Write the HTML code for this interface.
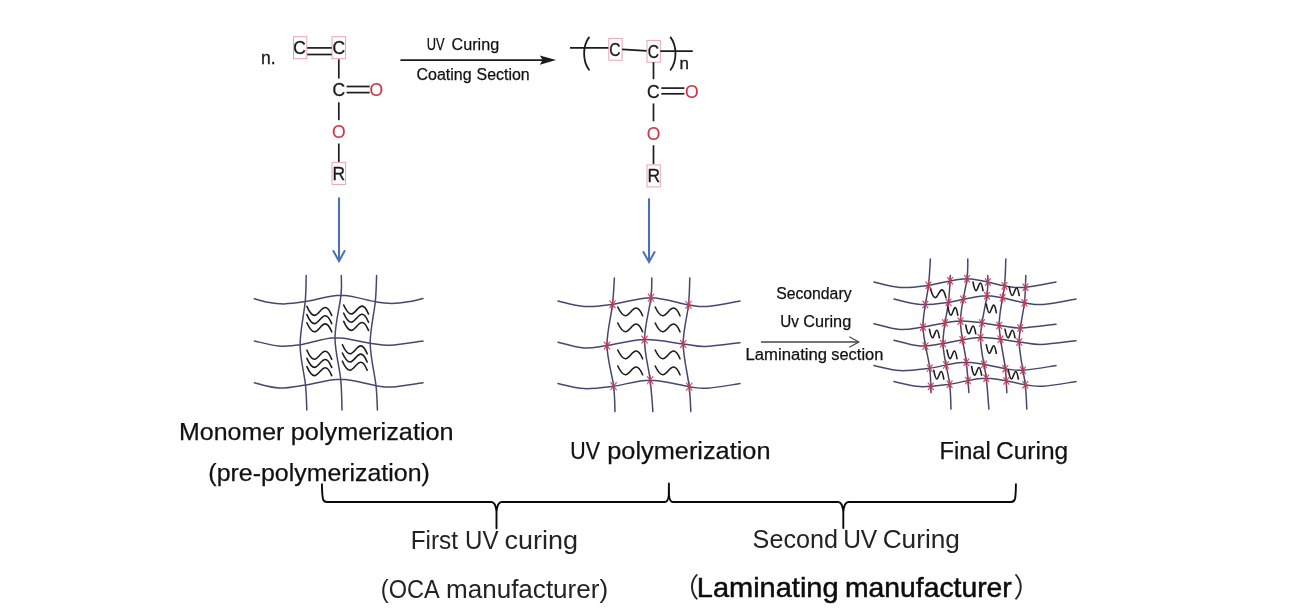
<!DOCTYPE html>
<html lang="en">
<head>
<meta charset="utf-8">
<title>UV curing process of OCA</title>
<style>
html,body{margin:0;padding:0;background:#fff;}
body{width:1307px;height:611px;overflow:hidden;position:relative;}
svg{position:absolute;left:0;top:0;display:block;filter:blur(0.45px);}
text{font-family:"Liberation Sans","Noto Sans CJK SC",sans-serif;}
.lab{fill:#111;stroke:#111;stroke-width:0.25px;}
.light{fill:#232323;}
.med{fill:#0c0c0c;stroke:#0c0c0c;stroke-width:0.5px;}
.chem{fill:#1a1a1a;stroke:#1a1a1a;stroke-width:0.3px;}
.red{fill:#cd3348;stroke:#cd3348;stroke-width:0.1px;}
</style>
</head>
<body>
<svg width="1307" height="611" viewBox="0 0 1307 611">
<g id="monomer">
<text x="261.0" y="63.8" font-size="17.50" font-weight="400" text-anchor="start" class="chem">n.</text>
<rect x="293.50" y="36.70" width="13.30" height="22.00" fill="none" stroke="#e9a3b2" stroke-width="1"/>
<text x="299.6" y="54.4" font-size="17.50" font-weight="400" text-anchor="middle" class="chem">C</text>
<rect x="332.00" y="36.70" width="13.60" height="22.00" fill="none" stroke="#e9a3b2" stroke-width="1"/>
<text x="338.8" y="54.4" font-size="17.50" font-weight="400" text-anchor="middle" class="chem">C</text>
<line x1="307.20" y1="47.90" x2="331.80" y2="47.90" stroke="#1c1c1c" stroke-width="1.70" stroke-linecap="butt"/>
<line x1="307.20" y1="54.50" x2="331.80" y2="54.50" stroke="#1c1c1c" stroke-width="1.70" stroke-linecap="butt"/>
<line x1="338.80" y1="59.30" x2="338.80" y2="78.50" stroke="#1c1c1c" stroke-width="1.70" stroke-linecap="butt"/>
<text x="338.9" y="96.4" font-size="17.50" font-weight="400" text-anchor="middle" class="chem">C</text>
<line x1="346.60" y1="86.50" x2="369.70" y2="86.50" stroke="#1c1c1c" stroke-width="1.70" stroke-linecap="butt"/>
<line x1="346.60" y1="92.60" x2="369.70" y2="92.60" stroke="#1c1c1c" stroke-width="1.70" stroke-linecap="butt"/>
<text x="376.4" y="96.4" font-size="17.50" font-weight="400" text-anchor="middle" class="red">O</text>
<line x1="338.80" y1="102.30" x2="338.80" y2="120.20" stroke="#1c1c1c" stroke-width="1.70" stroke-linecap="butt"/>
<text x="338.8" y="138.0" font-size="17.50" font-weight="400" text-anchor="middle" class="red">O</text>
<line x1="338.80" y1="143.50" x2="338.80" y2="162.00" stroke="#1c1c1c" stroke-width="1.70" stroke-linecap="butt"/>
<rect x="332.00" y="162.40" width="13.60" height="22.00" fill="none" stroke="#e9a3b2" stroke-width="1"/>
<text x="338.9" y="180.0" font-size="17.50" font-weight="400" text-anchor="middle" class="chem">R</text>
<line x1="339.00" y1="197.50" x2="339.00" y2="260.50" stroke="#4b70b6" stroke-width="2.10" stroke-linecap="butt"/>
<path d="M333.4,251.0 L339,261.2 L344.6,251.0" fill="none" stroke="#4b70b6" stroke-width="2.00" stroke-linecap="round" stroke-linejoin="miter"/>
</g>
<g id="curing-arrow">
<line x1="400.40" y1="60.10" x2="545.00" y2="60.10" stroke="#1c1c1c" stroke-width="1.80" stroke-linecap="butt"/>
<path d="M556.2,60.1 L539.8,55.4 L542.6,60.1 L539.8,64.8 Z" fill="#1c1c1c"/>
<text y="50.1" font-size="17.20" class="lab"><tspan x="426.68" textLength="17.88" lengthAdjust="spacingAndGlyphs">UV</tspan> <tspan x="451.58" textLength="47.59" lengthAdjust="spacingAndGlyphs">Curing</tspan></text>
<text y="80.2" font-size="17.20" class="lab"><tspan x="416.49" textLength="55.18" lengthAdjust="spacingAndGlyphs">Coating</tspan> <tspan x="476.58" textLength="53.14" lengthAdjust="spacingAndGlyphs">Section</tspan></text>
</g>
<g id="polymer">
<line x1="570.00" y1="47.80" x2="608.80" y2="47.80" stroke="#1c1c1c" stroke-width="1.70" stroke-linecap="butt"/>
<path d="M589.0,37.4 C582.5,46 582.5,61 589.0,69.8" fill="none" stroke="#1c1c1c" stroke-width="1.80" stroke-linecap="round" stroke-linejoin="round"/>
<rect x="608.80" y="38.40" width="13.30" height="21.80" fill="none" stroke="#e9a3b2" stroke-width="1"/>
<text x="615.0" y="56.0" font-size="17.50" font-weight="400" text-anchor="middle" class="chem" textLength="11.3" lengthAdjust="spacingAndGlyphs">C</text>
<line x1="622.10" y1="49.40" x2="647.00" y2="50.90" stroke="#1c1c1c" stroke-width="1.70" stroke-linecap="butt"/>
<rect x="647.00" y="40.40" width="13.30" height="21.80" fill="none" stroke="#e9a3b2" stroke-width="1"/>
<text x="653.4" y="58.0" font-size="17.50" font-weight="400" text-anchor="middle" class="chem" textLength="11.3" lengthAdjust="spacingAndGlyphs">C</text>
<line x1="660.30" y1="51.20" x2="692.80" y2="51.20" stroke="#1c1c1c" stroke-width="1.70" stroke-linecap="butt"/>
<path d="M670.6,37.4 C677.1,46 677.1,61 670.6,69.8" fill="none" stroke="#1c1c1c" stroke-width="1.80" stroke-linecap="round" stroke-linejoin="round"/>
<text x="679.6" y="69.2" font-size="17.00" font-weight="400" text-anchor="start" class="chem">n</text>
<line x1="653.50" y1="62.20" x2="653.50" y2="79.20" stroke="#1c1c1c" stroke-width="1.70" stroke-linecap="butt"/>
<text x="653.3" y="97.6" font-size="17.50" font-weight="400" text-anchor="middle" class="chem">C</text>
<line x1="661.30" y1="88.10" x2="684.40" y2="88.10" stroke="#1c1c1c" stroke-width="1.70" stroke-linecap="butt"/>
<line x1="661.30" y1="93.80" x2="684.40" y2="93.80" stroke="#1c1c1c" stroke-width="1.70" stroke-linecap="butt"/>
<text x="691.8" y="97.6" font-size="17.50" font-weight="400" text-anchor="middle" class="red">O</text>
<line x1="653.50" y1="103.50" x2="653.50" y2="121.30" stroke="#1c1c1c" stroke-width="1.70" stroke-linecap="butt"/>
<text x="653.5" y="139.8" font-size="17.50" font-weight="400" text-anchor="middle" class="red">O</text>
<line x1="653.50" y1="145.30" x2="653.50" y2="164.00" stroke="#1c1c1c" stroke-width="1.70" stroke-linecap="butt"/>
<rect x="647.00" y="164.90" width="13.30" height="22.00" fill="none" stroke="#e9a3b2" stroke-width="1"/>
<text x="653.7" y="182.4" font-size="17.50" font-weight="400" text-anchor="middle" class="chem">R</text>
<line x1="649.00" y1="198.30" x2="649.00" y2="261.30" stroke="#4b70b6" stroke-width="2.10" stroke-linecap="butt"/>
<path d="M643.4,252.0 L649,262.0 L654.6,252.0" fill="none" stroke="#4b70b6" stroke-width="2.00" stroke-linecap="round" stroke-linejoin="miter"/>
</g>
<g id="grid1">
<path d="M254.30,298.70 C256.58,299.30 263.05,301.43 268.00,302.30 C272.95,303.17 277.80,304.02 284.00,303.90 C290.20,303.78 295.70,303.05 305.20,301.60 C314.70,300.15 329.32,295.17 341.00,295.20 C352.68,295.23 366.80,300.43 375.30,301.80 C383.80,303.17 386.55,303.40 392.00,303.40 C397.45,303.40 402.83,302.62 408.00,301.80 C413.17,300.98 420.50,299.05 423.00,298.50 M254.40,341.00 C258.50,341.83 271.38,345.37 279.00,346.00 C286.62,346.63 290.77,346.17 300.10,344.80 C309.43,343.43 323.32,338.07 335.00,337.80 C346.68,337.53 361.03,341.95 370.20,343.20 C379.37,344.45 381.20,345.67 390.00,345.30 C398.80,344.93 417.50,341.72 423.00,341.00 M254.40,382.80 C258.50,383.67 270.48,387.63 279.00,388.00 C287.52,388.37 295.22,386.47 305.50,385.00 C315.78,383.53 328.95,379.08 340.70,379.20 C352.45,379.32 367.45,384.40 376.00,385.70 C384.55,387.00 384.17,387.48 392.00,387.00 C399.83,386.52 417.83,383.50 423.00,382.80 M306.20,275.50 C306.03,279.85 306.22,290.05 305.20,301.60 C304.18,313.15 300.05,330.90 300.10,344.80 C300.15,358.70 304.38,374.13 305.50,385.00 C306.62,395.87 306.58,405.83 306.80,410.00 M341.30,275.50 C341.25,278.78 342.05,284.82 341.00,295.20 C339.95,305.58 335.05,323.80 335.00,337.80 C334.95,351.80 339.53,367.17 340.70,379.20 C341.87,391.23 341.78,404.87 342.00,410.00 M376.60,275.50 C376.38,279.88 376.37,290.52 375.30,301.80 C374.23,313.08 370.08,329.22 370.20,343.20 C370.32,357.18 374.80,374.57 376.00,385.70 C377.20,396.83 377.17,405.95 377.40,410.00" fill="none" stroke="#47476e" stroke-width="1.50" stroke-linecap="round" stroke-linejoin="round"/>
<path d="M306.90,306.40 C308.88,310.90 311.36,315.40 314.59,315.40 C318.31,315.40 321.28,307.48 325.25,307.48 C328.23,307.48 330.21,311.80 331.70,315.40 M306.90,314.60 C308.88,319.10 311.36,323.60 314.59,323.60 C318.31,323.60 321.28,315.68 325.25,315.68 C328.23,315.68 330.21,320.00 331.70,323.60 M306.90,322.80 C308.88,327.30 311.36,331.80 314.59,331.80 C318.31,331.80 321.28,323.88 325.25,323.88 C328.23,323.88 330.21,328.20 331.70,331.80 M343.70,305.00 C345.68,309.50 348.16,314.00 351.39,314.00 C355.11,314.00 358.08,306.08 362.05,306.08 C365.03,306.08 367.01,310.40 368.50,314.00 M343.70,313.20 C345.68,317.70 348.16,322.20 351.39,322.20 C355.11,322.20 358.08,314.28 362.05,314.28 C365.03,314.28 367.01,318.60 368.50,322.20 M343.70,321.40 C345.68,325.90 348.16,330.40 351.39,330.40 C355.11,330.40 358.08,322.48 362.05,322.48 C365.03,322.48 367.01,326.80 368.50,330.40 M306.90,350.20 C308.88,354.70 311.36,359.20 314.59,359.20 C318.31,359.20 321.28,351.28 325.25,351.28 C328.23,351.28 330.21,355.60 331.70,359.20 M306.90,358.40 C308.88,362.90 311.36,367.40 314.59,367.40 C318.31,367.40 321.28,359.48 325.25,359.48 C328.23,359.48 330.21,363.80 331.70,367.40 M306.90,366.60 C308.88,371.10 311.36,375.60 314.59,375.60 C318.31,375.60 321.28,367.68 325.25,367.68 C328.23,367.68 330.21,372.00 331.70,375.60 M342.40,344.80 C344.38,349.30 346.86,353.80 350.09,353.80 C353.81,353.80 356.78,345.88 360.75,345.88 C363.73,345.88 365.71,350.20 367.20,353.80 M342.40,353.00 C344.38,357.50 346.86,362.00 350.09,362.00 C353.81,362.00 356.78,354.08 360.75,354.08 C363.73,354.08 365.71,358.40 367.20,362.00 M342.40,361.20 C344.38,365.70 346.86,370.20 350.09,370.20 C353.81,370.20 356.78,362.28 360.75,362.28 C363.73,362.28 365.71,366.60 367.20,370.20" fill="none" stroke="#1c1c1c" stroke-width="1.60" stroke-linecap="round" stroke-linejoin="round"/>
</g>
<g id="grid2">
<path d="M558.00,301.00 C562.38,301.90 575.22,305.85 584.30,306.40 C593.38,306.95 601.38,305.75 612.50,304.30 C623.62,302.85 638.33,297.62 651.00,297.70 C663.67,297.78 679.12,303.35 688.50,304.80 C697.88,306.25 698.72,307.03 707.30,306.40 C715.88,305.77 734.55,301.90 740.00,301.00 M558.00,342.20 C562.33,343.17 575.83,347.43 584.00,348.00 C592.17,348.57 596.92,347.00 607.00,345.60 C617.08,344.20 631.80,339.87 644.50,339.60 C657.20,339.33 673.12,342.85 683.20,344.00 C693.28,345.15 695.53,346.72 705.00,346.50 C714.47,346.28 734.17,343.33 740.00,342.70 M558.00,383.60 C562.33,384.43 574.73,388.17 584.00,388.60 C593.27,389.03 602.57,387.60 613.60,386.20 C624.63,384.80 637.60,380.12 650.20,380.20 C662.80,380.28 679.73,385.37 689.20,386.70 C698.67,388.03 698.53,388.72 707.00,388.20 C715.47,387.68 734.50,384.37 740.00,383.60 M614.40,278.00 C614.08,282.38 613.73,293.03 612.50,304.30 C611.27,315.57 606.82,331.95 607.00,345.60 C607.18,359.25 612.27,375.20 613.60,386.20 C614.93,397.20 614.77,407.37 615.00,411.60 M651.80,278.00 C651.67,281.28 652.22,287.43 651.00,297.70 C649.78,307.97 644.63,325.85 644.50,339.60 C644.37,353.35 648.80,368.20 650.20,380.20 C651.60,392.20 652.45,406.37 652.90,411.60 M689.80,278.00 C689.58,282.47 689.60,293.80 688.50,304.80 C687.40,315.80 683.08,330.35 683.20,344.00 C683.32,357.65 687.93,375.43 689.20,386.70 C690.47,397.97 690.53,407.45 690.80,411.60" fill="none" stroke="#47476e" stroke-width="1.50" stroke-linecap="round" stroke-linejoin="round"/>
<path d="M617.80,307.00 C619.78,311.35 622.26,315.70 625.49,315.70 C629.21,315.70 632.18,308.04 636.15,308.04 C639.13,308.04 641.11,312.22 642.60,315.70 M617.80,323.00 C619.78,327.35 622.26,331.70 625.49,331.70 C629.21,331.70 632.18,324.04 636.15,324.04 C639.13,324.04 641.11,328.22 642.60,331.70 M655.20,307.00 C657.18,311.35 659.66,315.70 662.89,315.70 C666.61,315.70 669.58,308.04 673.55,308.04 C676.53,308.04 678.51,312.22 680.00,315.70 M655.20,323.00 C657.18,327.35 659.66,331.70 662.89,331.70 C666.61,331.70 669.58,324.04 673.55,324.04 C676.53,324.04 678.51,328.22 680.00,331.70 M617.80,350.00 C619.78,354.35 622.26,358.70 625.49,358.70 C629.21,358.70 632.18,351.04 636.15,351.04 C639.13,351.04 641.11,355.22 642.60,358.70 M617.80,366.00 C619.78,370.35 622.26,374.70 625.49,374.70 C629.21,374.70 632.18,367.04 636.15,367.04 C639.13,367.04 641.11,371.22 642.60,374.70 M655.20,350.00 C657.18,354.35 659.66,358.70 662.89,358.70 C666.61,358.70 669.58,351.04 673.55,351.04 C676.53,351.04 678.51,355.22 680.00,358.70 M655.20,366.00 C657.18,370.35 659.66,374.70 662.89,374.70 C666.61,374.70 669.58,367.04 673.55,367.04 C676.53,367.04 678.51,371.22 680.00,374.70" fill="none" stroke="#1c1c1c" stroke-width="1.60" stroke-linecap="round" stroke-linejoin="round"/>
<g opacity="0.9">
<path d="M612.50,299.70 L612.50,308.90 M609.72,300.75 L615.28,307.85 M615.28,300.75 L609.72,307.85 M651.00,293.10 L651.00,302.30 M648.22,294.15 L653.78,301.25 M653.78,294.15 L648.22,301.25 M688.50,300.20 L688.50,309.40 M685.72,301.25 L691.28,308.35 M691.28,301.25 L685.72,308.35 M607.00,341.00 L607.00,350.20 M604.22,342.05 L609.78,349.15 M609.78,342.05 L604.22,349.15 M644.50,335.00 L644.50,344.20 M641.72,336.05 L647.28,343.15 M647.28,336.05 L641.72,343.15 M683.20,339.40 L683.20,348.60 M680.42,340.45 L685.98,347.55 M685.98,340.45 L680.42,347.55 M613.60,381.60 L613.60,390.80 M610.82,382.65 L616.38,389.75 M616.38,382.65 L610.82,389.75 M650.20,375.60 L650.20,384.80 M647.42,376.65 L652.98,383.75 M652.98,376.65 L647.42,383.75 M689.20,382.10 L689.20,391.30 M686.42,383.15 L691.98,390.25 M691.98,383.15 L686.42,390.25 " fill="none" stroke="#c83a56" stroke-width="1.20" stroke-linecap="round" stroke-linejoin="round"/>
</g>
</g>
<g id="secondary">
<text y="298.8" font-size="16.70" class="lab"><tspan x="776.14" textLength="75.40" lengthAdjust="spacingAndGlyphs">Secondary</tspan></text>
<text y="326.7" font-size="16.70" class="lab"><tspan x="780.31" textLength="18.64" lengthAdjust="spacingAndGlyphs">Uv</tspan> <tspan x="803.23" textLength="48.04" lengthAdjust="spacingAndGlyphs">Curing</tspan></text>
<line x1="761.00" y1="342.00" x2="858.20" y2="342.00" stroke="#444" stroke-width="1.30" stroke-linecap="butt"/>
<path d="M849.8,337 L858.8,342 L849.8,347" fill="none" stroke="#444" stroke-width="1.20" stroke-linecap="round" stroke-linejoin="miter"/>
<text y="360.3" font-size="16.30" class="lab"><tspan x="745.52" textLength="81.60" lengthAdjust="spacingAndGlyphs">Laminating</tspan> <tspan x="831.29" textLength="52.03" lengthAdjust="spacingAndGlyphs">section</tspan></text>
</g>
<g id="grid3">
<path d="M874.00,282.00 C878.38,282.90 891.22,286.85 900.30,287.40 C909.38,287.95 917.38,286.75 928.50,285.30 C939.62,283.85 954.33,278.62 967.00,278.70 C979.67,278.78 995.12,284.35 1004.50,285.80 C1013.88,287.25 1014.72,288.03 1023.30,287.40 C1031.88,286.77 1050.55,282.90 1056.00,282.00 M874.00,323.70 C878.33,324.67 891.83,328.93 900.00,329.50 C908.17,330.07 912.92,328.50 923.00,327.10 C933.08,325.70 947.80,321.37 960.50,321.10 C973.20,320.83 989.12,324.35 999.20,325.50 C1009.28,326.65 1011.53,328.22 1021.00,328.00 C1030.47,327.78 1050.17,324.83 1056.00,324.20 M874.00,365.60 C878.33,366.43 890.73,370.17 900.00,370.60 C909.27,371.03 918.57,369.60 929.60,368.20 C940.63,366.80 953.60,362.12 966.20,362.20 C978.80,362.28 995.73,367.37 1005.20,368.70 C1014.67,370.03 1014.53,370.72 1023.00,370.20 C1031.47,369.68 1050.50,366.37 1056.00,365.60 M894.00,299.00 C898.38,299.90 911.22,303.85 920.30,304.40 C929.38,304.95 937.38,303.75 948.50,302.30 C959.62,300.85 974.33,295.62 987.00,295.70 C999.67,295.78 1015.12,301.35 1024.50,302.80 C1033.88,304.25 1034.72,305.03 1043.30,304.40 C1051.88,303.77 1070.55,299.90 1076.00,299.00 M894.00,340.20 C898.33,341.17 911.83,345.43 920.00,346.00 C928.17,346.57 932.92,345.00 943.00,343.60 C953.08,342.20 967.80,337.87 980.50,337.60 C993.20,337.33 1009.12,340.85 1019.20,342.00 C1029.28,343.15 1031.53,344.72 1041.00,344.50 C1050.47,344.28 1070.17,341.33 1076.00,340.70 M894.00,381.60 C898.33,382.43 910.73,386.17 920.00,386.60 C929.27,387.03 938.57,385.60 949.60,384.20 C960.63,382.80 973.60,378.12 986.20,378.20 C998.80,378.28 1015.73,383.37 1025.20,384.70 C1034.67,386.03 1034.53,386.72 1043.00,386.20 C1051.47,385.68 1070.50,382.37 1076.00,381.60 M930.40,259.00 C930.08,263.38 929.73,274.03 928.50,285.30 C927.27,296.57 922.82,312.95 923.00,326.60 C923.18,340.25 928.27,356.20 929.60,367.20 C930.93,378.20 930.77,388.37 931.00,392.60 M967.80,259.00 C967.67,262.28 968.22,268.43 967.00,278.70 C965.78,288.97 960.63,306.85 960.50,320.60 C960.37,334.35 964.80,349.20 966.20,361.20 C967.60,373.20 968.45,387.37 968.90,392.60 M1005.80,259.00 C1005.58,263.47 1005.60,274.80 1004.50,285.80 C1003.40,296.80 999.08,311.35 999.20,325.00 C999.32,338.65 1003.93,356.43 1005.20,367.70 C1006.47,378.97 1006.53,388.45 1006.80,392.60 M950.40,275.50 C950.08,279.88 949.73,290.53 948.50,301.80 C947.27,313.07 942.82,329.45 943.00,343.10 C943.18,356.75 948.27,372.70 949.60,383.70 C950.93,394.70 950.77,404.87 951.00,409.10 M987.80,275.50 C987.67,278.78 988.22,284.93 987.00,295.20 C985.78,305.47 980.63,323.35 980.50,337.10 C980.37,350.85 984.80,365.70 986.20,377.70 C987.60,389.70 988.45,403.87 988.90,409.10 M1025.80,275.50 C1025.58,279.97 1025.60,291.30 1024.50,302.30 C1023.40,313.30 1019.08,327.85 1019.20,341.50 C1019.32,355.15 1023.93,372.93 1025.20,384.20 C1026.47,395.47 1026.53,404.95 1026.80,409.10" fill="none" stroke="#47476e" stroke-width="1.50" stroke-linecap="round" stroke-linejoin="round"/>
<path d="M930.45,288.80 C931.69,293.20 933.24,297.60 935.25,297.60 C937.58,297.60 939.44,289.86 941.92,289.86 C943.78,289.86 945.02,294.08 945.95,297.60 M973.00,282.00 C973.80,286.30 974.80,290.60 976.10,290.60 C977.60,290.60 978.80,283.03 980.40,283.03 C981.60,283.03 982.40,287.16 983.00,290.60 M1009.20,286.90 C1010.00,291.20 1011.00,295.50 1012.30,295.50 C1013.80,295.50 1015.00,287.93 1016.60,287.93 C1017.80,287.93 1018.60,292.06 1019.20,295.50 M947.80,306.60 C948.60,310.90 949.60,315.20 950.90,315.20 C952.40,315.20 953.60,307.63 955.20,307.63 C956.40,307.63 957.20,311.76 957.80,315.20 M986.30,304.10 C987.10,308.40 988.10,312.70 989.40,312.70 C990.90,312.70 992.10,305.13 993.70,305.13 C994.90,305.13 995.70,309.26 996.30,312.70 M929.40,329.20 C930.20,333.50 931.20,337.80 932.50,337.80 C934.00,337.80 935.20,330.23 936.80,330.23 C938.00,330.23 938.80,334.36 939.40,337.80 M965.70,325.00 C966.50,329.30 967.50,333.60 968.80,333.60 C970.30,333.60 971.50,326.03 973.10,326.03 C974.30,326.03 975.10,330.16 975.70,333.60 M1005.00,329.20 C1005.80,333.50 1006.80,337.80 1008.10,337.80 C1009.60,337.80 1010.80,330.23 1012.40,330.23 C1013.60,330.23 1014.40,334.36 1015.00,337.80 M947.00,350.00 C947.80,354.30 948.80,358.60 950.10,358.60 C951.60,358.60 952.80,351.03 954.40,351.03 C955.60,351.03 956.40,355.16 957.00,358.60 M986.30,344.70 C987.10,349.00 988.10,353.30 989.40,353.30 C990.90,353.30 992.10,345.73 993.70,345.73 C994.90,345.73 995.70,349.86 996.30,353.30 M933.80,370.40 C934.60,374.70 935.60,379.00 936.90,379.00 C938.40,379.00 939.60,371.43 941.20,371.43 C942.40,371.43 943.20,375.56 943.80,379.00 M971.60,366.50 C972.40,370.80 973.40,375.10 974.70,375.10 C976.20,375.10 977.40,367.53 979.00,367.53 C980.20,367.53 981.00,371.66 981.60,375.10 M1008.40,370.40 C1009.20,374.70 1010.20,379.00 1011.50,379.00 C1013.00,379.00 1014.20,371.43 1015.80,371.43 C1017.00,371.43 1017.80,375.56 1018.40,379.00" fill="none" stroke="#1c1c1c" stroke-width="1.60" stroke-linecap="round" stroke-linejoin="round"/>
<g opacity="0.9">
<path d="M928.50,281.00 L928.50,289.60 M925.91,281.98 L931.09,288.62 M931.09,281.98 L925.91,288.62 M967.00,274.40 L967.00,283.00 M964.41,275.38 L969.59,282.02 M969.59,275.38 L964.41,282.02 M1004.50,281.50 L1004.50,290.10 M1001.91,282.48 L1007.09,289.12 M1007.09,282.48 L1001.91,289.12 M950.09,276.49 L950.09,285.09 M947.50,277.47 L952.69,284.11 M952.69,277.47 L947.50,284.11 M987.81,277.64 L987.81,286.24 M985.22,278.62 L990.41,285.26 M990.41,278.62 L985.22,285.26 M1025.45,282.90 L1025.45,291.50 M1022.86,283.88 L1028.05,290.52 M1028.05,283.88 L1022.86,290.52 M923.01,322.80 L923.01,331.40 M920.42,323.78 L925.61,330.42 M925.61,323.78 L920.42,330.42 M960.50,316.80 L960.50,325.40 M957.91,317.78 L963.10,324.42 M963.10,317.78 L957.91,324.42 M999.21,321.20 L999.21,329.80 M996.62,322.18 L1001.81,328.82 M1001.81,322.18 L996.62,328.82 M944.99,318.58 L944.99,327.18 M942.40,319.56 L947.59,326.20 M947.59,319.56 L942.40,326.20 M981.89,318.63 L981.89,327.23 M979.30,319.60 L984.49,326.25 M984.49,319.60 L979.30,326.25 M1020.24,323.71 L1020.24,332.31 M1017.64,324.69 L1022.83,331.33 M1022.83,324.69 L1017.64,331.33 M929.71,363.88 L929.71,372.48 M927.12,364.86 L932.31,371.50 M932.31,364.86 L927.12,371.50 M966.31,357.90 L966.31,366.50 M963.72,358.88 L968.91,365.52 M968.91,358.88 L963.72,365.52 M1005.31,364.42 L1005.31,373.02 M1002.72,365.40 L1007.90,372.04 M1007.90,365.40 L1002.72,372.04 M945.98,360.63 L945.98,369.23 M943.39,361.61 L948.58,368.25 M948.58,361.61 L943.39,368.25 M983.97,360.10 L983.97,368.70 M981.38,361.08 L986.57,367.72 M986.57,361.08 L981.38,367.72 M1022.93,365.90 L1022.93,374.50 M1020.34,366.88 L1025.53,373.52 M1025.53,366.88 L1020.34,373.52 M925.31,300.23 L925.31,308.83 M922.72,301.21 L927.90,307.85 M927.90,301.21 L922.72,307.85 M963.15,295.04 L963.15,303.64 M960.56,296.02 L965.75,302.66 M965.75,296.02 L960.56,302.66 M1002.62,293.45 L1002.62,302.05 M1000.03,294.42 L1005.22,301.07 M1005.22,294.42 L1000.03,301.07 M948.44,298.01 L948.44,306.61 M945.85,298.99 L951.03,305.63 M951.03,298.99 L945.85,305.63 M986.93,291.40 L986.93,300.00 M984.34,292.38 L989.53,299.02 M989.53,292.38 L984.34,299.02 M1024.45,298.49 L1024.45,307.09 M1021.85,299.47 L1027.04,306.11 M1027.04,299.47 L1021.85,306.11 M925.50,341.77 L925.50,350.37 M922.90,342.75 L928.09,349.39 M928.09,342.75 L922.90,349.39 M962.47,335.54 L962.47,344.14 M959.87,336.52 L965.06,343.16 M965.06,336.52 L959.87,343.16 M1000.47,334.92 L1000.47,343.52 M997.87,335.90 L1003.06,342.54 M1003.06,335.90 L997.87,342.54 M943.01,339.30 L943.01,347.90 M940.42,340.28 L945.61,346.92 M945.61,340.28 L940.42,346.92 M980.50,333.30 L980.50,341.90 M977.91,334.28 L983.10,340.92 M983.10,334.28 L977.91,340.92 M1019.21,337.70 L1019.21,346.30 M1016.62,338.68 L1021.81,345.32 M1021.81,338.68 L1016.62,345.32 M930.82,382.08 L930.82,390.68 M928.23,383.06 L933.42,389.70 M933.42,383.06 L928.23,389.70 M967.99,376.20 L967.99,384.80 M965.39,377.18 L970.58,383.82 M970.58,377.18 L965.39,383.82 M1006.27,376.56 L1006.27,385.16 M1003.68,377.54 L1008.87,384.18 M1008.87,377.54 L1003.68,384.18 M949.66,379.89 L949.66,388.49 M947.06,380.87 L952.25,387.51 M952.25,380.87 L947.06,387.51 M986.26,373.90 L986.26,382.50 M983.66,374.88 L988.85,381.52 M988.85,374.88 L983.66,381.52 M1025.26,380.41 L1025.26,389.01 M1022.66,381.39 L1027.85,388.03 M1027.85,381.39 L1022.66,388.03 " fill="none" stroke="#c83a56" stroke-width="1.20" stroke-linecap="round" stroke-linejoin="round"/>
</g>
</g>
<g id="labels">
<text y="439.9" font-size="24.60" class="lab"><tspan x="179.12" textLength="105.18" lengthAdjust="spacingAndGlyphs">Monomer</tspan> <tspan x="290.83" textLength="162.75" lengthAdjust="spacingAndGlyphs">polymerization</tspan></text>
<text y="481.3" font-size="24.60" class="lab"><tspan x="208.39" textLength="221.43" lengthAdjust="spacingAndGlyphs">(pre-polymerization)</tspan></text>
<text y="459.0" font-size="24.60" class="lab"><tspan x="570.32" textLength="29.68" lengthAdjust="spacingAndGlyphs">UV</tspan> <tspan x="607.28" textLength="163.25" lengthAdjust="spacingAndGlyphs">polymerization</tspan></text>
<text y="459.0" font-size="24.60" class="lab"><tspan x="939.54" textLength="51.20" lengthAdjust="spacingAndGlyphs">Final</tspan> <tspan x="996.01" textLength="72.24" lengthAdjust="spacingAndGlyphs">Curing</tspan></text>
</g>
<g id="braces">
<path d="M321.9,483.6 C322.0,492 322.3,497.5 323.3,500 C324.1,501.7 325.3,502 327,502 L491.3,502 C494.3,502 495.9,505.5 496.5,512 L496.5,528.3 L496.5,512 C497.1,505.5 498.7,502 501.7,502 L664.9,502 C667.3,502 668.4,499.5 668.8,495 L668.9,483.4 L669.0,495 C669.4,499.5 670.5,502 672.9,502 L838.1,502 C841.1,502 842.7,505.5 843.3,512 L843.3,528 L843.3,512 C843.9,505.5 845.5,502 848.5,502 L1011,502 C1013.3,502 1014.5,501.2 1015.1,498.5 C1015.7,495 1015.9,489 1015.9,483.6" fill="none" stroke="#0a0a0a" stroke-width="1.90" stroke-linecap="butt" stroke-linejoin="round"/>
</g>
<g id="captions">
<text y="549.0" font-size="25.60" class="light"><tspan x="410.72" textLength="47.28" lengthAdjust="spacingAndGlyphs">First</tspan> <tspan x="465.05" textLength="33.41" lengthAdjust="spacingAndGlyphs">UV</tspan> <tspan x="504.56" textLength="73.46" lengthAdjust="spacingAndGlyphs">curing</tspan></text>
<text y="598.0" font-size="25.60" class="light"><tspan x="380.87" textLength="57.54" lengthAdjust="spacingAndGlyphs">(OCA</tspan> <tspan x="445.97" textLength="162.16" lengthAdjust="spacingAndGlyphs">manufacturer)</tspan></text>
<text y="547.5" font-size="25.60" class="light"><tspan x="752.61" textLength="85.34" lengthAdjust="spacingAndGlyphs">Second</tspan> <tspan x="843.13" textLength="34.13" lengthAdjust="spacingAndGlyphs">UV</tspan> <tspan x="882.66" textLength="77.26" lengthAdjust="spacingAndGlyphs">Curing</tspan></text>
<text y="597.4" font-size="28" class="med"><tspan x="672.2" y="597.0" font-size="27" class="light" stroke="none">（</tspan><tspan x="696.85" y="597.4" textLength="141.69" lengthAdjust="spacingAndGlyphs">Laminating</tspan> <tspan x="844.98" y="597.4" textLength="166.82" lengthAdjust="spacingAndGlyphs">manufacturer</tspan><tspan x="1013.4" y="597.0" font-size="27" class="light" stroke="none">）</tspan></text>
</g>
</svg>
</body>
</html>
